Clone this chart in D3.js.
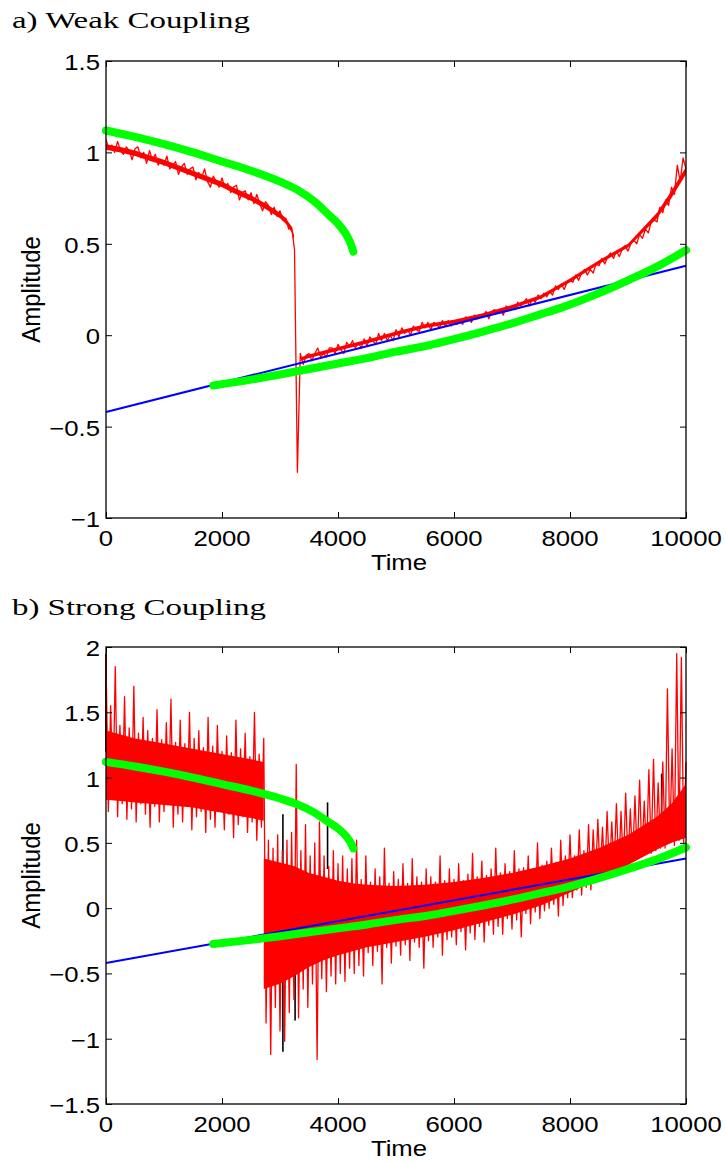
<!DOCTYPE html>
<html><head><meta charset="utf-8">
<script src="https://cdn.jsdelivr.net/npm/d3@7"></script>
<style>body{margin:0;background:#fff;} svg{display:block;}</style>
</head><body>
<svg id="chart" width="726" height="1164"></svg>
<script>
// ---------------- data ----------------
const xTicks = [0, 2000, 4000, 6000, 8000, 10000];
const weakYTicks = [-1, -0.5, 0, 0.5, 1, 1.5];
const strongYTicks = [-1.5, -1, -0.5, 0, 0.5, 1, 1.5, 2];

const blueTime = [0, 10000];
const blueValue = [-0.42, 0.38];

const greenUpperTime = [0, 500, 1000, 1500, 2000, 2500, 3000, 3300, 3600, 3850, 4000, 4150, 4220, 4264];
const greenUpperValue = [1.12, 1.085, 1.045, 1.0, 0.95, 0.90, 0.84, 0.795, 0.73, 0.655, 0.61, 0.546, 0.50, 0.457];

const greenLowerTime = [1850, 2500, 3000, 3500, 4000, 4500, 5000, 5500, 5931, 6500, 7000, 7500, 7828, 8500, 9000, 9500, 10000];
const greenLowerValue = [-0.275, -0.243, -0.215, -0.185, -0.155, -0.125, -0.09, -0.06, -0.027, 0.02, 0.065, 0.115, 0.148, 0.23, 0.30, 0.375, 0.465];

// weak coupling red trace, sampled every 50 time units
const weakStep = 50;
const weakRed = [
  1.07,1.02,1.04,1.00,1.06,1.01,0.99,1.03,1.01,0.96,
  1.02,1.03,0.97,1.00,0.94,1.01,0.96,0.99,0.93,0.96,
  0.93,0.98,0.91,0.93,0.95,0.88,0.92,0.94,0.88,0.91,
  0.92,0.85,0.89,0.86,0.91,0.84,0.81,0.87,0.84,0.81,
  0.86,0.81,0.83,0.78,0.81,0.82,0.74,0.78,0.79,0.74,
  0.78,0.72,0.77,0.72,0.68,0.73,0.71,0.66,0.70,0.65,
  0.68,0.63,0.64,0.58,0.59,0.47,-0.75,-0.10,-0.16,-0.11,
  -0.10,-0.14,-0.10,-0.07,-0.12,-0.10,-0.12,-0.07,-0.07,-0.10,
  -0.05,-0.08,-0.10,-0.04,-0.06,-0.03,-0.07,-0.04,-0.07,-0.02,
  -0.06,-0.01,-0.03,-0.05,0.01,-0.03,0.01,-0.03,0.00,-0.03,
  0.03,-0.01,0.04,0.01,0.03,0.00,0.05,0.03,0.02,0.07,
  0.04,0.07,0.03,0.07,0.06,0.04,0.08,0.05,0.08,0.05,
  0.08,0.06,0.08,0.06,0.10,0.09,0.07,0.11,0.09,0.11,
  0.10,0.13,0.09,0.13,0.14,0.12,0.14,0.11,0.16,0.14,
  0.16,0.14,0.18,0.16,0.18,0.20,0.16,0.20,0.18,0.22,
  0.20,0.23,0.21,0.24,0.22,0.27,0.25,0.28,0.25,0.29,
  0.30,0.29,0.33,0.30,0.34,0.36,0.33,0.36,0.34,0.39,
  0.38,0.42,0.39,0.43,0.45,0.42,0.46,0.43,0.47,0.49,
  0.46,0.50,0.52,0.50,0.55,0.53,0.58,0.56,0.62,0.63,
  0.62,0.70,0.67,0.74,0.71,0.81,0.77,0.93,0.84,0.97,
  0.91
];

// dense core of the weak coupling red trace (null = gap at the jump)
const weakBandTime = [0, 250, 500, 750, 1000, 1250, 1500, 1750, 2000, 2250, 2500, 2750, 3000, 3100, 3200, 3240, 3300, 3360, 3500, 4000, 4500, 5000, 5500, 6000, 6500, 7000, 7500, 8000, 8500, 9000, 9500, 9750, 10000];
const weakBandLow = [1.015, 1.0, 0.98, 0.955, 0.93, 0.90, 0.87, 0.84, 0.81, 0.77, 0.735, 0.69, 0.64, 0.61, 0.565, 0.52, null, -0.14, -0.125, -0.085, -0.045, 0.0, 0.04, 0.066, 0.10, 0.145, 0.20, 0.29, 0.39, 0.48, 0.64, 0.75, 0.88];
const weakBandHigh = [1.045, 1.03, 1.01, 0.985, 0.96, 0.93, 0.90, 0.87, 0.84, 0.80, 0.765, 0.72, 0.67, 0.64, 0.595, 0.55, null, -0.12, -0.105, -0.065, -0.025, 0.02, 0.06, 0.084, 0.12, 0.165, 0.22, 0.31, 0.41, 0.50, 0.67, 0.79, 0.92];

// strong coupling red trace, sampled every 40 time units
const strongStep = 40;
const strongRed = [
  1.92,0.74,1.55,0.86,1.85,0.70,1.40,0.80,1.62,0.68,
  1.38,0.76,1.70,0.66,1.34,0.80,1.46,0.72,1.36,0.62,
  1.30,0.78,1.52,0.66,1.29,0.74,1.42,0.80,1.60,0.62,
  1.27,0.72,1.44,0.66,1.26,0.79,1.50,0.60,1.30,0.70,
  1.36,0.74,1.23,0.58,1.46,0.68,1.24,0.62,1.40,0.76,
  1.20,0.60,1.32,0.72,1.19,0.54,1.44,0.64,1.22,0.70,
  1.34,0.58,1.16,0.66,1.50,0.52,1.18,0.62,1.30,-0.88,
  0.52,-1.12,0.46,-0.76,0.56,-0.94,0.44,-1.02,0.52,-0.80,
  0.58,-0.70,1.10,-0.84,0.44,-0.62,0.64,-0.76,0.40,-0.58,
  0.50,-1.16,0.66,-0.54,0.40,-0.64,0.32,-0.52,0.44,-0.58,
  0.34,-0.50,0.40,-0.56,0.30,-0.46,0.38,-0.50,0.52,-0.44,
  0.22,-0.52,0.40,-0.34,0.20,-0.44,0.30,-0.33,0.24,-0.58,
  0.46,-0.30,0.19,-0.42,0.28,-0.29,0.22,-0.36,0.34,-0.28,
  0.19,-0.40,0.38,-0.26,0.24,-0.30,0.20,-0.46,0.30,-0.25,
  0.24,-0.30,0.20,-0.22,0.40,-0.36,0.21,-0.24,0.30,-0.22,
  0.22,-0.28,0.34,-0.18,0.21,-0.32,0.26,-0.19,0.42,-0.24,
  0.24,-0.14,0.36,-0.26,0.25,-0.13,0.30,-0.20,0.46,-0.14,
  0.27,-0.20,0.34,-0.08,0.28,-0.16,0.44,-0.09,0.30,-0.22,
  0.31,-0.04,0.40,-0.12,0.30,-0.03,0.50,-0.08,0.33,-0.02,
  0.36,0.00,0.46,0.03,0.35,-0.06,0.52,0.02,0.40,0.08,
  0.56,0.08,0.40,0.14,0.60,0.10,0.44,0.16,0.64,0.14,
  0.60,0.22,0.68,0.24,0.62,0.24,0.74,0.26,0.66,0.30,
  0.80,0.28,0.74,0.32,0.88,0.34,0.76,0.36,0.86,0.38,
  0.98,0.40,0.82,0.42,1.06,0.42,1.14,0.44,0.96,0.46,
  1.12,0.46,1.68,0.50,1.22,0.48,1.95,0.52,1.92,0.50,
  1.12
];

// dense core of the strong coupling red trace
const strongBandTime = [0, 250, 500, 750, 1000, 1250, 1500, 1750, 2000, 2250, 2500, 2720, 2720, 3000, 3250, 3500, 3750, 4000, 4250, 4500, 5000, 5500, 6000, 6500, 7000, 7500, 8000, 8500, 9000, 9500, 9750, 10000];
const strongBandLow = [0.83, 0.82, 0.81, 0.80, 0.79, 0.78, 0.77, 0.75, 0.73, 0.71, 0.69, 0.67, -0.62, -0.58, -0.52, -0.45, -0.40, -0.36, -0.33, -0.30, -0.26, -0.22, -0.17, -0.11, -0.05, 0.02, 0.12, 0.22, 0.33, 0.45, 0.50, 0.54];
const strongBandHigh = [1.36, 1.33, 1.30, 1.28, 1.26, 1.24, 1.22, 1.20, 1.18, 1.16, 1.14, 1.12, 0.38, 0.35, 0.32, 0.27, 0.24, 0.21, 0.19, 0.18, 0.17, 0.18, 0.20, 0.23, 0.27, 0.32, 0.38, 0.46, 0.56, 0.70, 0.80, 0.95];

// black trace spikes peeking out from under the red (strong coupling)
const blackSpikeTime = [0, 3050, 3260, 3820, 9580];
const blackSpikeTop = [1.95, 0.72, 0.11, 0.81, 1.03];
const blackSpikeBottom = [1.20, -1.10, -0.86, 0.30, 0.60];

// ---------------- drawing ----------------
const svg = d3.select("#chart");
const SX = 1.17; // horizontal stretch of the original figure's lettering
const LEFT = 106, RIGHT = 686;

const panels = [
  { title: "a) Weak Coupling", titleLen: 238, titleY: 28, top: 61, bottom: 518,
    yDomain: [-1, 1.5], yTicks: weakYTicks, red: weakRed, redStep: weakStep, strong: false,
    bandT: weakBandTime, bandLo: weakBandLow, bandHi: weakBandHigh },
  { title: "b) Strong Coupling", titleLen: 254, titleY: 615, top: 647, bottom: 1104,
    yDomain: [-1.5, 2], yTicks: strongYTicks, red: strongRed, redStep: strongStep, strong: true,
    bandT: strongBandTime, bandLo: strongBandLow, bandHi: strongBandHigh }
];

const fmt = v => String(v).replace("-", "\u2212");

function stretchedText(g, x, y, str, anchor, size) {
  return g.append("text")
    .attr("transform", `translate(${x},${y}) scale(${SX},1)`)
    .attr("text-anchor", anchor)
    .attr("font-family", "'Liberation Sans', Arial, Helvetica, sans-serif")
    .attr("font-size", size)
    .attr("fill", "#000")
    .text(str);
}

panels.forEach(p => {
  const g = svg.append("g");
  const x = d3.scaleLinear().domain([0, 10000]).range([LEFT, RIGHT]);
  const y = d3.scaleLinear().domain(p.yDomain).range([p.bottom, p.top]);

  // title
  g.append("text")
    .attr("x", 12).attr("y", p.titleY)
    .attr("font-family", "'Liberation Serif', 'Times New Roman', serif")
    .attr("font-size", 23)
    .attr("textLength", p.titleLen)
    .attr("lengthAdjust", "spacingAndGlyphs")
    .text(p.title);

  // white plot background
  g.append("rect").attr("x", LEFT).attr("y", p.top)
    .attr("width", RIGHT - LEFT).attr("height", p.bottom - p.top).attr("fill", "#fff");

  if (p.strong) {
    g.selectAll("line.black").data(blackSpikeTime).enter().append("line")
      .attr("x1", d => x(d)).attr("x2", d => x(d))
      .attr("y1", (d, i) => y(blackSpikeTop[i])).attr("y2", (d, i) => y(blackSpikeBottom[i]))
      .attr("stroke", "#000").attr("stroke-width", 1.6);
  }

  // dense red core
  const band = d3.area()
    .defined((d, i) => p.bandLo[i] !== null)
    .x(d => x(d))
    .y0((d, i) => y(p.bandLo[i]))
    .y1((d, i) => y(p.bandHi[i]));
  g.append("path").datum(p.bandT).attr("d", band).attr("fill", "#ff0000");

  // red trace
  const redLine = d3.line().x((d, i) => x(i * p.redStep)).y(d => y(d));
  g.append("path").datum(p.red).attr("d", redLine)
    .attr("fill", "none").attr("stroke", "#ff0000")
    .attr("stroke-width", 1.3).attr("stroke-linejoin", "round");

  // blue line
  const pairLine = d3.line().x(d => x(d[0])).y(d => y(d[1]));
  g.append("path").datum(d3.zip(blueTime, blueValue)).attr("d", pairLine)
    .attr("fill", "none").attr("stroke", "#0000ff").attr("stroke-width", 2);

  // green branches
  const greenCurve = d3.line().x(d => x(d[0])).y(d => y(d[1])).curve(d3.curveMonotoneX);
  [[greenUpperTime, greenUpperValue], [greenLowerTime, greenLowerValue]].forEach(([t, v]) => {
    g.append("path").datum(d3.zip(t, v)).attr("d", greenCurve)
      .attr("fill", "none").attr("stroke", "#00ff00").attr("stroke-width", 8)
      .attr("stroke-linecap", "round").attr("stroke-linejoin", "round");
  });

  // axes: ticks inward on all four sides
  const tickStyle = sel => {
    sel.select(".domain").remove();
    sel.selectAll(".tick line").attr("stroke", "#000").attr("stroke-width", 1);
    sel.selectAll(".tick text").remove();
  };
  g.append("g").attr("transform", `translate(0,${p.bottom})`)
    .call(d3.axisBottom(x).tickValues(xTicks).tickSize(-6).tickFormat("")).call(tickStyle);
  g.append("g").attr("transform", `translate(0,${p.top})`)
    .call(d3.axisTop(x).tickValues(xTicks).tickSize(-6).tickFormat("")).call(tickStyle);
  g.append("g").attr("transform", `translate(${LEFT},0)`)
    .call(d3.axisLeft(y).tickValues(p.yTicks).tickSize(-6).tickFormat("")).call(tickStyle);
  g.append("g").attr("transform", `translate(${RIGHT},0)`)
    .call(d3.axisRight(y).tickValues(p.yTicks).tickSize(-6).tickFormat("")).call(tickStyle);

  // box
  g.append("rect").attr("x", LEFT).attr("y", p.top)
    .attr("width", RIGHT - LEFT).attr("height", p.bottom - p.top)
    .attr("fill", "none").attr("stroke", "#000").attr("stroke-width", 1.3);

  // tick labels
  xTicks.forEach(t => stretchedText(g, x(t), p.bottom + 28, String(t), "middle", 22));
  p.yTicks.forEach(v => stretchedText(g, 100, y(v) + 9, fmt(v), "end", 22));

  // axis labels
  stretchedText(g, (LEFT + RIGHT) / 2 + 3, p.bottom + 52, "Time", "middle", 22);
  g.append("text")
    .attr("transform", `translate(40,${(p.top + p.bottom) / 2}) rotate(-90) scale(1,1.08)`)
    .attr("text-anchor", "middle")
    .attr("font-family", "'Liberation Sans', Arial, Helvetica, sans-serif")
    .attr("font-size", 24)
    .text("Amplitude");
});
</script>
</body></html>
